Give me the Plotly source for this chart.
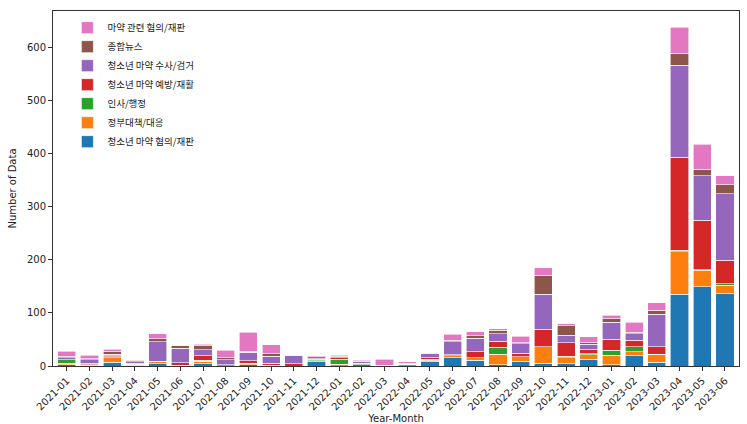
import plotly.graph_objects as go

months = ["2021-01","2021-02","2021-03","2021-04","2021-05","2021-06","2021-07","2021-08","2021-09","2021-10","2021-11","2021-12",
          "2022-01","2022-02","2022-03","2022-04","2022-05","2022-06","2022-07","2022-08","2022-09","2022-10","2022-11","2022-12",
          "2023-01","2023-02","2023-03","2023-04","2023-05","2023-06"]

youth_trial = [2,1,7,1,4,1,4,0,2,1,0,8, 0,2,0,0,8,16,11,2,9,5,4,13, 2,19,7,135,149,136]
gov_policy = [3,1,9,2,4,0,5,2,3,0,0,2, 3,0,0,3,3,3,5,20,8,31,12,8, 18,8,15,80,31,16]
personnel = [7,0,1,0,0,0,2,0,0,0,0,3, 10,2,0,0,2,0,0,13,0,0,2,2, 10,9,0,3,1,3]
youth_prevent = [0,3,2,2,1,5,8,0,5,4,4,1, 3,1,0,0,3,2,11,12,7,33,26,8, 20,13,14,175,94,44]
youth_invest = [4,7,3,3,37,27,12,10,16,13,15,3, 0,4,1,1,7,25,25,14,18,66,14,10, 32,12,62,174,84,126]
general_news = [2,2,6,3,5,6,7,4,2,5,1,0, 2,1,0,1,1,3,5,6,2,36,18,3, 7,3,7,22,12,17]
drug_trial = [10,6,4,1,10,0,3,14,36,17,1,2, 2,2,12,3,1,11,8,3,12,14,4,11, 7,18,14,49,47,17]

series = [
    ("청소년 마약 혐의/재판", youth_trial, "#1f77b4"),
    ("정부대책/대응", gov_policy, "#ff7f0e"),
    ("인사/행정", personnel, "#2ca02c"),
    ("청소년 마약 예방/재활", youth_prevent, "#d62728"),
    ("청소년 마약 수사/검거", youth_invest, "#9467bd"),
    ("종합뉴스", general_news, "#8c564b"),
    ("마약 관련 혐의/재판", drug_trial, "#e377c2"),
]

fig = go.Figure()
for name, vals, color in series:
    fig.add_trace(go.Bar(x=months, y=vals, name=name,
                         marker=dict(color=color, line=dict(color="white", width=0.6))))

axis_common = dict(showline=True, linecolor="#333", linewidth=1, mirror=True, automargin=False,
                   ticks="outside", ticklen=4, tickcolor="#333", showgrid=False, zeroline=False,
                   tickfont=dict(family="DejaVu Sans", size=10, color="#222"))

fig.update_layout(
    barmode="stack", bargap=0.2,
    width=747, height=424,
    margin=dict(l=53, r=8, t=11, b=58),
    plot_bgcolor="white", paper_bgcolor="white",
    font=dict(family="DejaVu Sans", size=10, color="#222"),
    legend=dict(x=0.021, y=0.994, xanchor="left", yanchor="top", traceorder="reversed",
                bgcolor="rgba(0,0,0,0)", font=dict(family="Noto Sans CJK KR", size=9.5, color="#222")),
    showlegend=True,
)
fig.update_xaxes(type="category", range=[-0.61, 29.62], tickangle=-45,
                 title=dict(text="Year-Month", standoff=2, font=dict(size=10)), **axis_common)
fig.update_yaxes(range=[0, 669], tickvals=[0,100,200,300,400,500,600],
                 title=dict(text="Number of Data", standoff=8, font=dict(size=10)), **axis_common)

fig.write_html("out.html", config={"displayModeBar": False},
               post_script="document.body.style.margin='0';")
